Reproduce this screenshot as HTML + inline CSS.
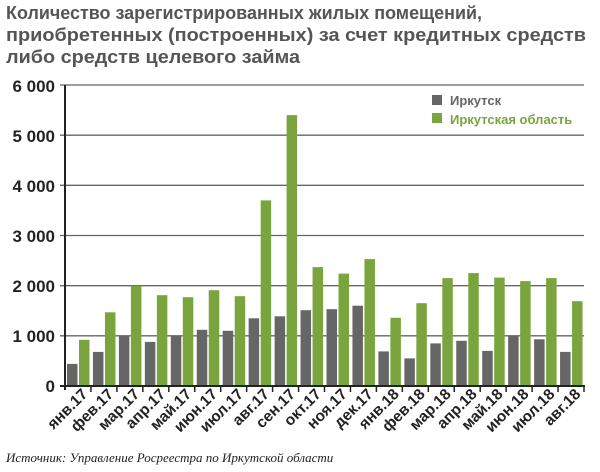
<!DOCTYPE html>
<html><head><meta charset="utf-8"><style>body{margin:0;background:#fff}svg{display:block}</style></head>
<body>
<svg width="600" height="472" xmlns="http://www.w3.org/2000/svg" font-family="Liberation Sans, sans-serif">
<g font-size="18" font-weight="bold" fill="#555" lengthAdjust="spacingAndGlyphs">
<text x="6" y="19" textLength="476" lengthAdjust="spacingAndGlyphs">Количество зарегистрированных жилых помещений,</text>
<text x="6" y="41" textLength="580" lengthAdjust="spacingAndGlyphs">приобретенных (построенных) за счет кредитных средств</text>
<text x="6" y="63" textLength="294" lengthAdjust="spacingAndGlyphs">либо средств целевого займа</text>
</g>
<g stroke="#666" stroke-width="1.3">
<line x1="60" y1="85" x2="584" y2="85"/><line x1="60" y1="135.2" x2="584" y2="135.2"/>
<line x1="60" y1="185.3" x2="584" y2="185.3"/><line x1="60" y1="235.5" x2="584" y2="235.5"/>
<line x1="60" y1="285.7" x2="584" y2="285.7"/><line x1="60" y1="335.8" x2="584" y2="335.8"/>
</g>
<g font-size="17" font-weight="bold" fill="#222" text-anchor="end">
<text x="55" y="92">6 000</text><text x="55" y="142">5 000</text><text x="55" y="192">4 000</text>
<text x="55" y="242">3 000</text><text x="55" y="292">2 000</text><text x="55" y="342">1 000</text><text x="55" y="392">0</text>
</g>
<g fill="#666">
<rect x="67" y="363.9" width="10.5" height="22.1"/>
<rect x="92.95" y="351.9" width="10.5" height="34.1"/>
<rect x="118.9" y="335.8" width="10.5" height="50.2"/>
<rect x="144.85" y="341.9" width="10.5" height="44.1"/>
<rect x="170.8" y="335.8" width="10.5" height="50.2"/>
<rect x="196.75" y="329.8" width="10.5" height="56.2"/>
<rect x="222.7" y="330.8" width="10.5" height="55.2"/>
<rect x="248.65" y="318.3" width="10.5" height="67.7"/>
<rect x="274.6" y="316.3" width="10.5" height="69.7"/>
<rect x="300.55" y="310.2" width="10.5" height="75.8"/>
<rect x="326.5" y="309.2" width="10.5" height="76.8"/>
<rect x="352.45" y="305.7" width="10.5" height="80.3"/>
<rect x="378.4" y="351.4" width="10.5" height="34.6"/>
<rect x="404.35" y="358.4" width="10.5" height="27.6"/>
<rect x="430.3" y="343.4" width="10.5" height="42.6"/>
<rect x="456.25" y="340.8" width="10.5" height="45.2"/>
<rect x="482.2" y="350.9" width="10.5" height="35.1"/>
<rect x="508.15" y="335.8" width="10.5" height="50.2"/>
<rect x="534.1" y="339.3" width="10.5" height="46.7"/>
<rect x="560.05" y="351.9" width="10.5" height="34.1"/>
</g>
<g fill="#7aa53e">
<rect x="79" y="339.8" width="10.5" height="46.2"/>
<rect x="104.95" y="312.3" width="10.5" height="73.7"/>
<rect x="130.9" y="285.7" width="10.5" height="100.3"/>
<rect x="156.85" y="295.2" width="10.5" height="90.8"/>
<rect x="182.8" y="297.2" width="10.5" height="88.8"/>
<rect x="208.75" y="290.2" width="10.5" height="95.8"/>
<rect x="234.7" y="296.2" width="10.5" height="89.8"/>
<rect x="260.65" y="200.4" width="10.5" height="185.6"/>
<rect x="286.6" y="115.1" width="10.5" height="270.9"/>
<rect x="312.55" y="267.1" width="10.5" height="118.9"/>
<rect x="338.5" y="273.6" width="10.5" height="112.4"/>
<rect x="364.45" y="259.1" width="10.5" height="126.9"/>
<rect x="390.4" y="317.8" width="10.5" height="68.2"/>
<rect x="416.35" y="303.2" width="10.5" height="82.8"/>
<rect x="442.3" y="278.1" width="10.5" height="107.9"/>
<rect x="468.25" y="273.1" width="10.5" height="112.9"/>
<rect x="494.2" y="277.6" width="10.5" height="108.4"/>
<rect x="520.15" y="281.1" width="10.5" height="104.9"/>
<rect x="546.1" y="278.1" width="10.5" height="107.9"/>
<rect x="572.05" y="301.2" width="10.5" height="84.8"/>
</g>
<line x1="65" y1="85" x2="65" y2="390" stroke="#222" stroke-width="2"/>
<line x1="60" y1="386" x2="585" y2="386" stroke="#222" stroke-width="2"/>
<g stroke="#222" stroke-width="1.5">
<line x1="90.95" y1="386" x2="90.95" y2="392"/><line x1="116.9" y1="386" x2="116.9" y2="392"/>
<line x1="142.85" y1="386" x2="142.85" y2="392"/><line x1="168.8" y1="386" x2="168.8" y2="392"/>
<line x1="194.75" y1="386" x2="194.75" y2="392"/><line x1="220.7" y1="386" x2="220.7" y2="392"/>
<line x1="246.65" y1="386" x2="246.65" y2="392"/><line x1="272.6" y1="386" x2="272.6" y2="392"/>
<line x1="298.55" y1="386" x2="298.55" y2="392"/><line x1="324.5" y1="386" x2="324.5" y2="392"/>
<line x1="350.45" y1="386" x2="350.45" y2="392"/><line x1="376.4" y1="386" x2="376.4" y2="392"/>
<line x1="402.35" y1="386" x2="402.35" y2="392"/><line x1="428.3" y1="386" x2="428.3" y2="392"/>
<line x1="454.25" y1="386" x2="454.25" y2="392"/><line x1="480.2" y1="386" x2="480.2" y2="392"/>
<line x1="506.15" y1="386" x2="506.15" y2="392"/><line x1="532.1" y1="386" x2="532.1" y2="392"/>
<line x1="558.05" y1="386" x2="558.05" y2="392"/><line x1="584" y1="386" x2="584" y2="392"/>
</g>
<rect x="432" y="95" width="10" height="10" fill="#666"/>
<text x="450" y="105" font-size="13" font-weight="bold" fill="#666">Иркутск</text>
<rect x="432" y="113" width="10" height="10" fill="#7aa53e"/>
<text x="450" y="124" font-size="13" font-weight="bold" fill="#7aa53e">Иркутская область</text>
<g font-size="15.5" font-weight="bold" fill="#222" text-anchor="end">
<text transform="translate(88.5,395) rotate(-45)">янв.17</text>
<text transform="translate(114.4,395) rotate(-45)">фев.17</text>
<text transform="translate(140.4,395) rotate(-45)">мар.17</text>
<text transform="translate(166.3,395) rotate(-45)">апр.17</text>
<text transform="translate(192.3,395) rotate(-45)">май.17</text>
<text transform="translate(218.2,395) rotate(-45)">июн.17</text>
<text transform="translate(244.2,395) rotate(-45)">июл.17</text>
<text transform="translate(270.1,395) rotate(-45)">авг.17</text>
<text transform="translate(296.1,395) rotate(-45)">сен.17</text>
<text transform="translate(322,395) rotate(-45)">окт.17</text>
<text transform="translate(348,395) rotate(-45)">ноя.17</text>
<text transform="translate(373.9,395) rotate(-45)">дек.17</text>
<text transform="translate(399.9,395) rotate(-45)">янв.18</text>
<text transform="translate(425.8,395) rotate(-45)">фев.18</text>
<text transform="translate(451.8,395) rotate(-45)">мар.18</text>
<text transform="translate(477.7,395) rotate(-45)">апр.18</text>
<text transform="translate(503.7,395) rotate(-45)">май.18</text>
<text transform="translate(529.6,395) rotate(-45)">июн.18</text>
<text transform="translate(555.6,395) rotate(-45)">июл.18</text>
<text transform="translate(581.5,395) rotate(-45)">авг.18</text>
</g>
<text x="6" y="462" font-size="13" font-style="italic" font-family="Liberation Serif, serif" fill="#222">Источник: Управление Росреестра по Иркутской области</text>
</svg>
</body></html>
